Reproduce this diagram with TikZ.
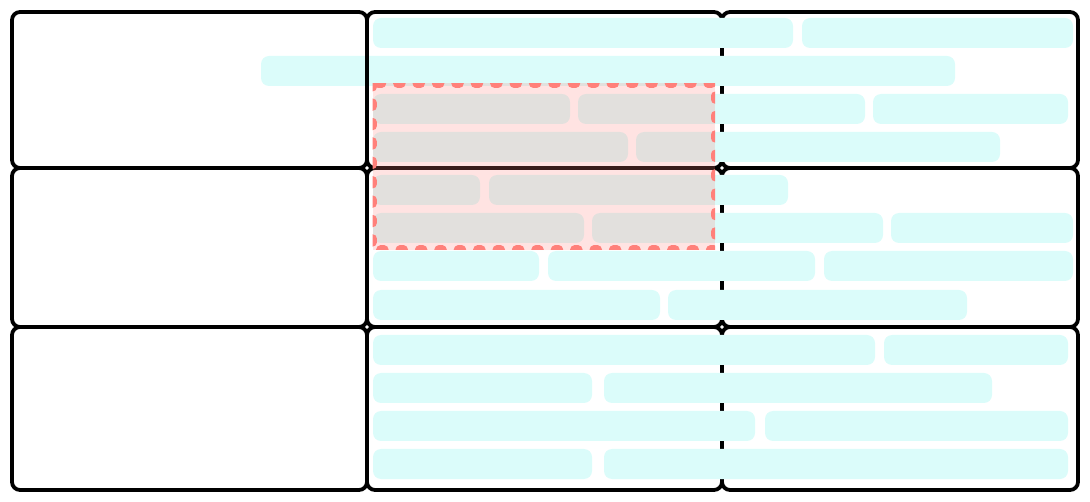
\documentclass[tikz,border=0pt]{standalone}
\definecolor{barcyan}{RGB}{219,252,250}
\definecolor{hl}{RGB}{255,128,122}
\tikzset{
  cell/.style={draw=black, line width=3.8pt, rounded corners=8pt},
  barfill/.style={fill=barcyan, rounded corners=8pt},
  hlfill/.style={fill=hl, fill opacity=0.22},
  hlborder/.style={draw=hl, line width=9pt, dash pattern=on 3.5pt off 15.9pt, line cap=round},
}
\begin{document}
\begin{tikzpicture}[x=1pt,y=-1pt]
\useasboundingbox (0,0) rectangle (1090,502);
% middle and right cells
\draw[cell] (367,12) rectangle (722,168);
\draw[cell] (722,12) rectangle (1078,168);
\draw[cell] (367,168) rectangle (722,327);
\draw[cell] (722,168) rectangle (1078,327);
\draw[cell] (367,327) rectangle (722,490);
\draw[cell] (722,327) rectangle (1078,490);
% bars row 1
\fill[barfill] (373,18) rectangle (793,48);
\fill[barfill] (802,18) rectangle (1073,48);
\fill[barfill] (261,56) rectangle (955,86);
\fill[barfill] (373,94) rectangle (570,124);
\fill[barfill] (578,94) rectangle (865,124);
\fill[barfill] (873,94) rectangle (1068,124);
\fill[barfill] (373,132) rectangle (628,162);
\fill[barfill] (636,132) rectangle (1000,162);
% bars row 2
\fill[barfill] (373,175) rectangle (480,205);
\fill[barfill] (489,175) rectangle (788,205);
\fill[barfill] (373,213) rectangle (584,243);
\fill[barfill] (592,213) rectangle (883,243);
\fill[barfill] (891,213) rectangle (1073,243);
\fill[barfill] (373,251) rectangle (539,281);
\fill[barfill] (548,251) rectangle (815,281);
\fill[barfill] (824,251) rectangle (1073,281);
\fill[barfill] (373,290) rectangle (660,320);
\fill[barfill] (668,290) rectangle (967,320);
% bars row 3
\fill[barfill] (373,335) rectangle (875,365);
\fill[barfill] (884,335) rectangle (1068,365);
\fill[barfill] (373,373) rectangle (592,403);
\fill[barfill] (604,373) rectangle (992,403);
\fill[barfill] (373,411) rectangle (755,441);
\fill[barfill] (765,411) rectangle (1068,441);
\fill[barfill] (373,449) rectangle (592,479);
\fill[barfill] (604,449) rectangle (1068,479);
% left cells
\draw[cell] (12,12) rectangle (367,168);
\draw[cell] (12,168) rectangle (367,327);
\draw[cell] (12,327) rectangle (367,490);
% highlight overlay
\fill[hlfill] (372.5,83.5) rectangle (715,250);
\begin{scope}
  \clip (372.5,83.5) rectangle (715,250);
  \draw[hlborder] (372.5,83.5) rectangle (715,250);
\end{scope}
\end{tikzpicture}
\end{document}
